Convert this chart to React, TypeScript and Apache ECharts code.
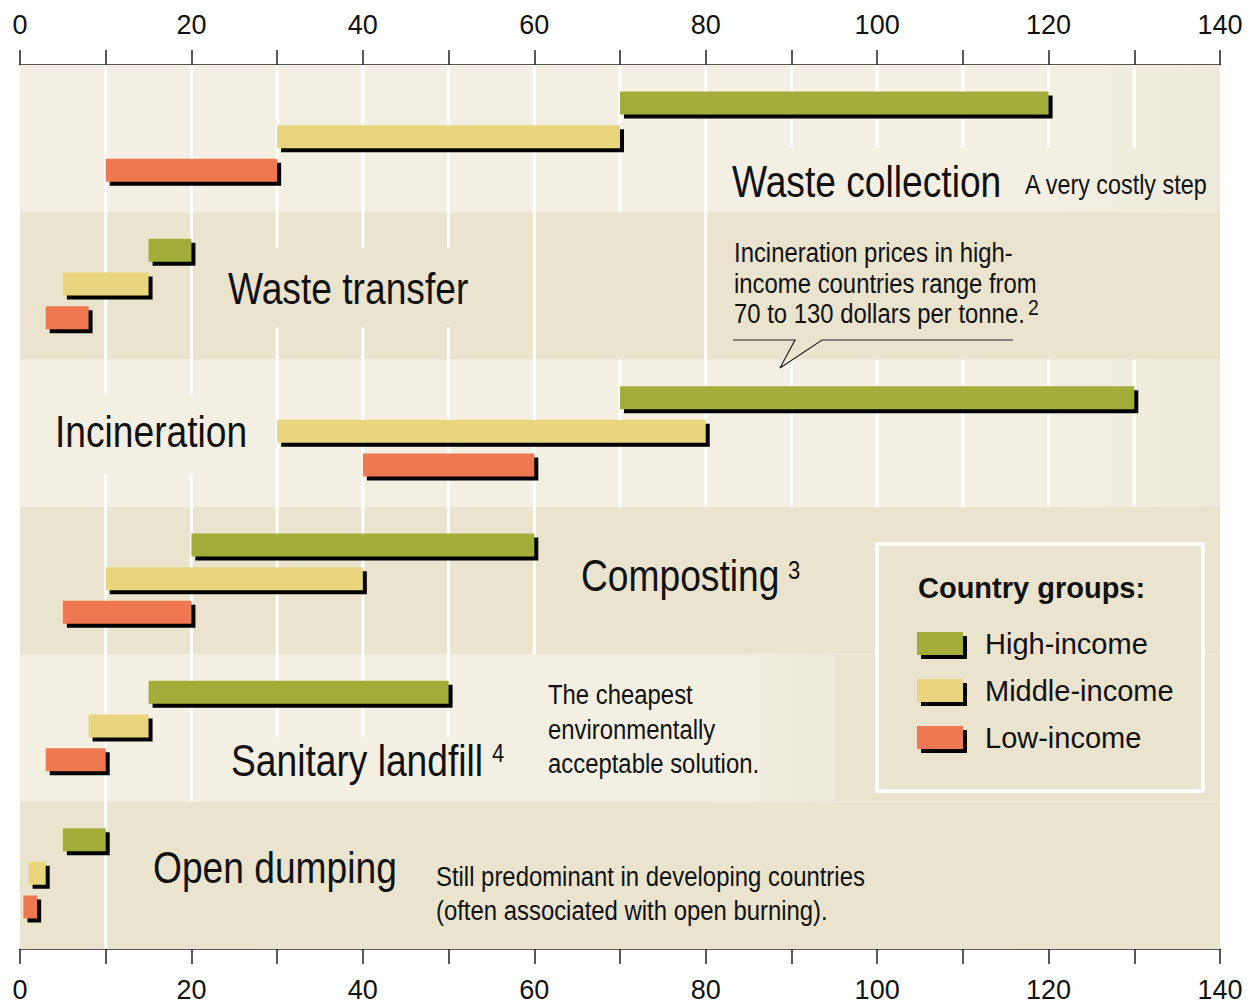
import React, { useEffect, useRef } from 'react';
import * as echarts from 'echarts';

// ---------- data ----------
const categories = ['Waste collection', 'Waste transfer', 'Incineration', 'Composting', 'Sanitary landfill', 'Open dumping'];
const groupNames = ['High-income', 'Middle-income', 'Low-income'];
// cost ranges [from, to] in dollars per tonne
const highIncome = [[70, 120], [15, 20], [70, 130], [20, 60], [15, 50], [5, 10]];
const middleIncome = [[30, 70], [5, 15], [30, 80], [10, 40], [8, 15], [1, 3]];
const lowIncome = [[10, 30], [3, 8], [40, 60], [5, 20], [3, 10], [0.4, 2]];
const axisMin = 0;
const axisMax = 140;
const labelStep = 20;

// ---------- styling ----------
const groupColors = ['#a3ae3a', '#e8d57e', '#ef7850'];
const FONT = '"Liberation Sans", Arial, Helvetica, sans-serif';
const LIGHT = '#f3f0e3';
const DARK = '#eae4ce';
// how far (in axis units) the light band reaches in each row (0 = dark row)
const lightReach = [140, 0, 140, 0, 95, 0];
// which white guide lines are visible in each row: full, top part only, or small stubs
const guideRows = [
  { full: [10, 20, 30, 40, 50, 60, 70, 80], top: [90, 100, 110, 120, 130], stubs: [] },
  { full: [10, 20, 60, 80], top: [], stubs: [30, 40, 50] },
  { full: [30, 40, 50, 60, 70, 80, 90, 100, 110, 120, 130], top: [], stubs: [10, 20] },
  { full: [10, 20, 30, 40, 50, 60], top: [], stubs: [] },
  { full: [10, 20], top: [30, 40, 50], stubs: [] },
  { full: [10], top: [], stubs: [] },
];

const bigLabels = [
  { text: 'Waste collection', x: 732, y: 182 },
  { text: 'Waste transfer', x: 228, y: 289 },
  { text: 'Incineration', x: 55, y: 432 },
  { text: 'Composting', x: 581, y: 576 },
  { text: 'Sanitary landfill', x: 231, y: 761 },
  { text: 'Open dumping', x: 153, y: 868 },
];
const superscripts = [
  { text: '3', x: 788, y: 571, size: 25 },
  { text: '4', x: 492, y: 754, size: 25 },
  { text: '2', x: 1028, y: 307, size: 22 },
];
const notes = [
  { text: 'A very costly step', x: 1025, y: 184, sx: 0.865 },
  { text: 'Incineration prices in high-', x: 734, y: 252.6, sx: 0.885 },
  { text: 'income countries range from', x: 734, y: 283, sx: 0.885 },
  { text: '70 to 130 dollars per tonne.', x: 734, y: 313.6, sx: 0.885 },
  { text: 'The cheapest', x: 548, y: 694.6, sx: 0.885 },
  { text: 'environmentally', x: 548, y: 729, sx: 0.885 },
  { text: 'acceptable solution.', x: 548, y: 763.6, sx: 0.885 },
  { text: 'Still predominant in developing countries', x: 436, y: 876.6, sx: 0.885 },
  { text: '(often associated with open burning).', x: 436, y: 910.6, sx: 0.885 },
];

function textEl(text: string, x: number, y: number, size: number, sx = 1, weight = 'normal') {
  return {
    type: 'text',
    x,
    y,
    scaleX: sx,
    z: 100,
    style: {
      text,
      fontSize: size,
      fontFamily: FONT,
      fontWeight: weight,
      fill: '#111',
      textAlign: 'left',
      textVerticalAlign: 'middle',
      align: 'left',
      verticalAlign: 'middle',
    },
  };
}

export default function App() {
  const ref = useRef<HTMLDivElement>(null);

  useEffect(() => {
    if (!ref.current) return;
    const chart = echarts.init(ref.current, null, { renderer: 'svg' });

    const axisCommon = (position: 'top' | 'bottom') => ({
      type: 'value',
      position,
      min: axisMin,
      max: axisMax,
      interval: labelStep,
      axisLine: { show: true, lineStyle: { color: '#222', width: 1.5 } },
      axisTick: { show: true, length: 15, inside: false, lineStyle: { color: '#222', width: 1.5 } },
      minorTick: { show: true, splitNumber: 2, length: 15, lineStyle: { color: '#222', width: 1.5 } },
      axisLabel: { fontSize: 27, fontFamily: FONT, color: '#111', margin: 27 },
      splitLine: { show: false },
      minorSplitLine: { show: false },
    });

    const bandData = categories.map((_, i) => [0, i]);
    const guideData: number[][] = [];
    guideRows.forEach((row, i) => {
      row.full.forEach((v) => guideData.push([v, i, 0]));
      row.top.forEach((v) => guideData.push([v, i, 1]));
      row.stubs.forEach((v) => guideData.push([v, i, 2]));
    });

    const groups = [highIncome, middleIncome, lowIncome];
    const barSeries = groups.map((g, gi) => ({
      type: 'custom',
      name: groupNames[gi],
      z: 5,
      data: g.map(([s, e], i) => [s, e, i]),
      encode: { x: [0, 1], y: 2 },
      renderItem: (params: any, api: any) => {
        const row = api.value(2);
        const p0 = api.coord([api.value(0), row]);
        const p1 = api.coord([api.value(1), row]);
        const barH = 23;
        const yc = p0[1] - 2 + (gi - 1) * 33.7;
        const w = p1[0] - p0[0];
        return {
          type: 'group',
          children: [
            { type: 'rect', shape: { x: p0[0] + 4, y: yc - barH / 2 + 4, width: w, height: barH }, style: { fill: '#000' } },
            { type: 'rect', shape: { x: p0[0], y: yc - barH / 2, width: w, height: barH }, style: { fill: groupColors[gi] } },
          ],
        };
      },
    }));

    const option: any = {
      animation: false,
      backgroundColor: '#fff',
      grid: { left: 20, right: 31, top: 65, bottom: 54, containLabel: false },
      xAxis: [axisCommon('top'), axisCommon('bottom')],
      yAxis: { type: 'category', data: categories, inverse: true, show: false },
      series: [
        {
          type: 'custom',
          name: 'bands',
          z: 1,
          silent: true,
          data: bandData,
          encode: { x: 0, y: 1 },
          renderItem: (params: any, api: any) => {
            const cs = params.coordSys;
            const i = api.value(1);
            const yc = api.coord([0, i])[1];
            const h = api.size([0, 1])[1];
            const children: any[] = [
              { type: 'rect', shape: { x: cs.x, y: yc - h / 2, width: cs.width, height: h }, style: { fill: DARK } },
            ];
            if (lightReach[i] > 0) {
              const xr = api.coord([lightReach[i], i])[0];
              children.push({
                type: 'rect',
                shape: { x: cs.x, y: yc - h / 2, width: xr - cs.x, height: h },
                style: {
                  fill: new echarts.graphic.LinearGradient(0, 0, 1, 0, [
                    { offset: 0, color: LIGHT },
                    { offset: 0.85, color: LIGHT },
                    { offset: 1, color: '#eeeadb' },
                  ]),
                },
              });
            }
            return { type: 'group', children };
          },
        },
        {
          type: 'custom',
          name: 'guides',
          z: 2,
          silent: true,
          data: guideData,
          encode: { x: 0, y: 1 },
          renderItem: (params: any, api: any) => {
            const p = api.coord([api.value(0), api.value(1)]);
            const h = api.size([0, 1])[1];
            const top = p[1] - h / 2;
            const kind = api.value(2);
            const st = { stroke: '#fff', lineWidth: 3 };
            const seg = (a: number, b: number) => ({ type: 'line', shape: { x1: p[0], y1: top + a * h, x2: p[0], y2: top + b * h }, style: st });
            let children: any[];
            if (kind === 0) children = [seg(0, 1)];
            else if (kind === 1) children = [seg(0, 0.56)];
            else children = [seg(0, 0.24), seg(0.78, 1)];
            return { type: 'group', children };
          },
        },
        ...barSeries,
      ],
      graphic: [
        ...bigLabels.map((l) => textEl(l.text, l.x, l.y, 44, 0.845)),
        ...superscripts.map((s) => textEl(s.text, s.x, s.y, s.size, 0.88)),
        ...notes.map((n) => textEl(n.text, n.x, n.y, 27, n.sx)),
        {
          type: 'polyline',
          z: 100,
          shape: { points: [[733, 340], [795, 340], [780, 368], [822, 340], [1013, 340]] },
          style: { stroke: '#222', lineWidth: 1.2, fill: null },
        },
        {
          type: 'rect',
          z: 90,
          shape: { x: 877, y: 544, width: 326, height: 247 },
          style: { fill: DARK, stroke: '#fff', lineWidth: 4 },
        },
        textEl('Country groups:', 918, 588, 29, 1, 'bold'),
        ...groupNames.flatMap((name, gi) => {
          const top = 632 + gi * 47;
          return [
            { type: 'rect', z: 100, shape: { x: 921, y: top + 4, width: 46, height: 23 }, style: { fill: '#000' } },
            { type: 'rect', z: 101, shape: { x: 917, y: top, width: 46, height: 23 }, style: { fill: groupColors[gi] } },
            textEl(name, 985, top + 12, 29, 1),
          ];
        }),
      ],
    };

    chart.setOption(option);
    return () => chart.dispose();
  }, []);

  return (
    <div
      ref={ref}
      style={{ position: 'fixed', left: 0, top: 0, width: 1251, height: 1003, background: '#fff' }}
    />
  );
}
